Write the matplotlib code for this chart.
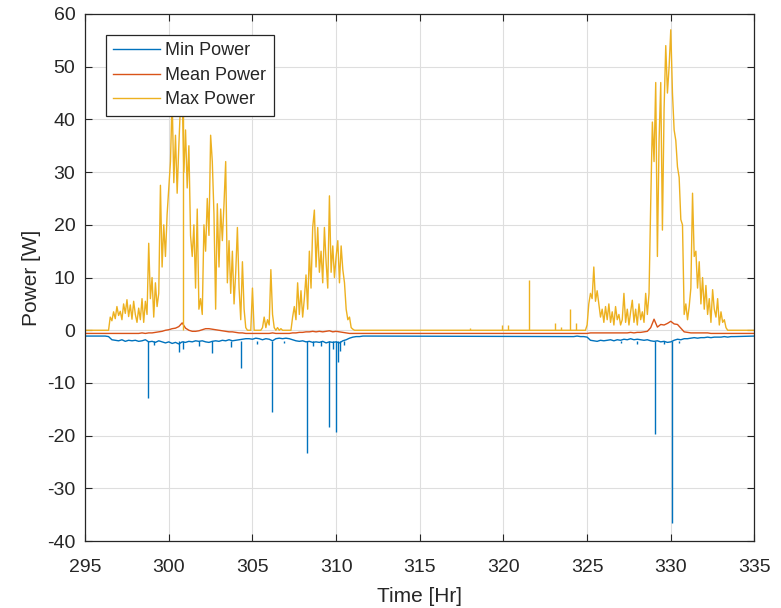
import numpy as np
import matplotlib
matplotlib.use("Agg")
import matplotlib.pyplot as plt

# MATLAB default line colours
C_MIN = "#0072BD"
C_MEAN = "#D95319"
C_MAX = "#EDB120"

# ---- data (hourly rows) ----
# max power, 0.1 hr samples, rows start at whole hours
max_day1_start = 296.0
max_day1 = [
    [0, 0, 0, 0, 0, 2.5, 1.8, 3.5, 2.2, 4.5],            # 296
    [2.8, 3.6, 2.0, 5.0, 3.2, 5.8, 2.6, 4.8, 2.1, 5.5],  # 297
    [3.0, 1.5, 4.2, 2.0, 6.0, 1.5, 5.5, 3.0, 16.5, 6.0],  # 298
    [10.0, 2.5, 9.0, 4.5, 7.0, 27.5, 12.0, 20.0, 14.0, 22.0],  # 299
    [27.0, 32.0, 44.0, 28.0, 37.0, 26.0, 35.0, 43.0, 45.0, 30.0],  # 300
    [38.0, 27.0, 35.0, 18.0, 14.0, 20.0, 8.0, 23.0, 4.0, 6.0],  # 301
    [3.0, 20.0, 15.0, 25.0, 18.0, 37.0, 32.0, 22.0, 4.0, 24.0],  # 302
    [12.0, 23.0, 17.0, 24.0, 32.0, 9.0, 17.0, 7.0, 15.0, 5.0],  # 303
    [11.0, 19.5, 8.0, 2.0, 13.0, 4.0, 0.5, 0, 0, 0],     # 304
    [8.0, 0, 0, 0, 0, 0, 0.5, 2.5, 0.5, 2.0],            # 305
    [1.0, 11.5, 3.0, 0.5, 0, 0.5, 0, 0.3, 0, 0],         # 306
    [0, 0, 0, 0, 2.5, 4.5, 2.0, 9.0, 3.0, 7.5],          # 307
    [2.5, 6.0, 10.5, 4.0, 15.0, 8.0, 19.5, 22.8, 12.0, 19.5],  # 308
    [11.0, 15.0, 9.0, 19.5, 13.0, 8.0, 25.5, 11.0, 16.0, 10.0],  # 309
    [14.0, 17.0, 9.0, 16.0, 11.5, 9.0, 4.0, 2.0, 2.5, 0.5],  # 310
    [0.2, 0, 0, 0, 0, 0, 0, 0, 0, 0],                    # 311
]
max_day2_start = 324.0
max_day2 = [
    [0, 0, 0, 0, 0, 0, 0, 0, 0, 0],                      # 324
    [1.0, 5.0, 7.0, 6.0, 12.0, 5.5, 7.5, 5.0, 2.5, 4.0],  # 325
    [1.5, 4.5, 2.0, 5.0, 1.5, 3.5, 1.0, 4.5, 2.0, 3.0],  # 326
    [1.0, 2.0, 7.0, 1.5, 4.0, 1.0, 3.5, 5.7, 1.5, 4.0],  # 327
    [1.0, 5.0, 2.0, 3.5, 1.5, 7.0, 3.0, 7.0, 24.0, 39.5],  # 328
    [32.0, 47.0, 14.0, 36.0, 47.0, 19.0, 42.0, 54.0, 45.0, 50.0],  # 329
    [57.0, 45.0, 38.0, 36.0, 31.0, 29.0, 21.0, 20.0, 3.0, 5.0],  # 330
    [2.0, 4.5, 8.0, 26.0, 14.0, 15.0, 8.0, 13.0, 5.0, 10.0],  # 331
    [4.0, 8.5, 3.0, 6.0, 1.5, 7.7, 4.0, 2.5, 6.0, 1.0],  # 332
    [3.5, 1.5, 2.0, 0.5, 0, 0, 0, 0, 0, 0],              # 333
]
# isolated spikes of max power (hr, W)
max_spike_t = [300.83, 318.0, 319.9, 320.3, 321.55, 323.1, 323.45, 323.95, 324.35]
max_spike_v = [42.0, 0.5, 1.0, 1.0, 9.5, 1.3, 0.6, 4.0, 1.3]

# min power, 0.2 hr samples
min_day1 = [
    [-1.1, -1.1, -1.2, -1.8, -1.9],   # 296
    [-2.0, -1.8, -2.1, -1.9, -2.0],   # 297
    [-1.9, -2.1, -2.0, -1.8, -2.2],   # 298
    [-2.1, -2.3, -2.0, -2.2, -2.4],   # 299
    [-2.2, -2.5, -2.3, -2.6, -2.2],   # 300
    [-2.3, -2.1, -2.2, -2.0, -2.1],   # 301
    [-2.0, -2.2, -2.3, -2.1, -2.0],   # 302
    [-2.1, -1.9, -2.0, -1.8, -2.0],   # 303
    [-1.9, -1.8, -1.7, -1.6, -1.6],   # 304
    [-1.7, -1.5, -1.6, -1.8, -1.6],   # 305
    [-1.7, -2.0, -1.6, -1.5, -1.6],   # 306
    [-1.5, -1.6, -1.8, -2.0, -2.1],   # 307
    [-2.0, -2.2, -2.1, -2.3, -2.2],   # 308
    [-2.3, -2.1, -2.4, -2.2, -2.3],   # 309
    [-2.2, -2.4, -2.0, -1.8, -1.5],   # 310
    [-1.3, -1.2, -1.2, -1.1, -1.1],   # 311
]
min_day2 = [
    [-1.2, -1.2, -1.1, -1.2, -1.2],   # 324
    [-1.3, -1.9, -2.0, -2.1, -1.9],   # 325
    [-2.0, -1.9, -1.8, -2.0, -1.8],   # 326
    [-1.9, -1.7, -1.8, -1.6, -1.8],   # 327
    [-1.7, -1.8, -1.9, -1.8, -2.0],   # 328
    [-2.1, -2.0, -2.2, -2.1, -2.3],   # 329
    [-2.2, -1.9, -1.7, -1.8, -1.6],   # 330
    [-1.6, -1.5, -1.4, -1.5, -1.4],   # 331
    [-1.4, -1.3, -1.4, -1.3, -1.3],   # 332
    [-1.3, -1.2, -1.3, -1.2, -1.2],   # 333
]
min_night = -1.1
min_spike_base = -2.0
min_spike_t = [298.77, 299.1, 300.6, 300.85, 301.8, 302.6, 303.7, 304.3, 305.3,
               306.17, 306.9, 308.23, 308.6, 309.1, 309.55, 309.8, 310.0, 310.1,
               310.25, 310.5, 327.0, 328.0, 329.08, 329.6, 330.06, 330.5]
min_spike_v = [-12.8, -2.8, -4.2, -3.5, -3.0, -4.4, -3.2, -7.2, -2.6,
               -15.5, -2.5, -23.3, -3.0, -3.0, -18.4, -3.5, -19.3, -6.0,
               -4.0, -2.8, -2.5, -2.6, -19.6, -2.6, -36.6, -2.4]

# mean power, 0.2 hr samples
mean_day1 = [
    [-0.6, -0.6, -0.6, -0.6, -0.6],   # 296
    [-0.6, -0.6, -0.6, -0.6, -0.6],   # 297
    [-0.6, -0.6, -0.5, -0.6, -0.5],   # 298
    [-0.5, -0.4, -0.3, -0.2, 0.0],    # 299
    [0.1, 0.3, 0.4, 0.7, 1.4],        # 300
    [0.4, 0.0, -0.2, -0.2, -0.1],     # 301
    [0.1, 0.3, 0.3, 0.2, 0.1],        # 302
    [0.0, -0.1, -0.2, -0.3, -0.3],    # 303
    [-0.4, -0.5, -0.5, -0.6, -0.6],   # 304
    [-0.6, -0.6, -0.6, -0.6, -0.6],   # 305
    [-0.6, -0.5, -0.6, -0.6, -0.6],   # 306
    [-0.6, -0.6, -0.5, -0.5, -0.4],   # 307
    [-0.4, -0.3, -0.3, -0.2, -0.3],   # 308
    [-0.2, -0.3, -0.2, -0.1, -0.3],   # 309
    [-0.2, -0.3, -0.4, -0.5, -0.6],   # 310
    [-0.6, -0.6, -0.6, -0.6, -0.6],   # 311
]
mean_day2 = [
    [-0.6, -0.6, -0.6, -0.6, -0.6],   # 324
    [-0.6, -0.5, -0.5, -0.5, -0.5],   # 325
    [-0.5, -0.5, -0.5, -0.5, -0.5],   # 326
    [-0.5, -0.5, -0.5, -0.4, -0.5],   # 327
    [-0.4, -0.4, -0.3, -0.2, 0.5],    # 328
    [2.1, 0.6, 1.1, 1.0, 1.3],        # 329
    [1.7, 1.2, 1.1, 0.4, -0.3],       # 330
    [-0.4, -0.5, -0.5, -0.5, -0.5],   # 331
    [-0.5, -0.5, -0.6, -0.6, -0.6],   # 332
    [-0.6, -0.6, -0.6, -0.6, -0.6],   # 333
]
mean_night = -0.6

t_start, t_end = 295.0, 335.0
xticks = np.arange(295, 336, 5)
yticks = np.arange(-40, 61, 10)


def series(night, blocks):
    """join hourly-row blocks [(start, rows, samples per hr)] with night level at both ends"""
    ts, vs = [t_start], [night]
    for start, rows, per_hr in blocks:
        vals = np.concatenate([np.asarray(r, float) for r in rows])
        ts.extend(start + np.arange(len(vals)) / per_hr)
        vs.extend(vals)
    ts.append(t_end)
    vs.append(night)
    return np.array(ts), np.array(vs)


t_max, v_max = series(0.0, [(max_day1_start, max_day1, 10), (max_day2_start, max_day2, 10)])
t_min, v_min = series(min_night, [(max_day1_start, min_day1, 5), (max_day2_start, min_day2, 5)])
t_mean, v_mean = series(mean_night, [(max_day1_start, mean_day1, 5), (max_day2_start, mean_day2, 5)])

plt.rcParams['font.family'] = ['Liberation Sans', 'DejaVu Sans']
plt.rcParams['axes.unicode_minus'] = False
fig = plt.figure(figsize=(7.81, 6.08), dpi=100)
ax = fig.add_axes([0.109, 0.110, 0.857, 0.867])

lw = 1.0
ax.plot(t_min, v_min, color=C_MIN, lw=lw, label="Min Power")
ax.vlines(min_spike_t, min_spike_base, min_spike_v, color=C_MIN, lw=lw)
ax.plot(t_mean, v_mean, color=C_MEAN, lw=lw, label="Mean Power")
ax.plot(t_max, v_max, color=C_MAX, lw=lw, label="Max Power")
ax.vlines(max_spike_t, 0, max_spike_v, color=C_MAX, lw=lw)

ax.set_xlim(t_start, t_end)
ax.set_ylim(-40, 60)
ax.set_xticks(xticks)
ax.set_yticks(yticks)
ax.grid(True, color="#dedede", lw=0.8)
ax.set_axisbelow(True)
ax.tick_params(direction="in", length=5, width=0.8, top=True, right=True,
               labelsize=14, colors="#262626")
ax.tick_params(axis="x", pad=13)
ax.tick_params(axis="y", pad=7)
for s in ax.spines.values():
    s.set_color("#262626")
    s.set_linewidth(0.9)

ax.set_xlabel("Time [Hr]", fontsize=15, color="#262626", labelpad=8)
ax.set_ylabel("Power [W]", fontsize=15, color="#262626", labelpad=4)

leg = ax.legend(loc="upper left", bbox_to_anchor=(0.031, 0.960), borderaxespad=0,
                fontsize=13, fancybox=False, framealpha=1, edgecolor="#262626",
                handlelength=2.6, handletextpad=0.3, labelspacing=0.42, borderpad=0.4)
leg.get_frame().set_linewidth(0.9)
for txt in leg.get_texts():
    txt.set_color("#262626")

fig.savefig("out.png", dpi=100)
